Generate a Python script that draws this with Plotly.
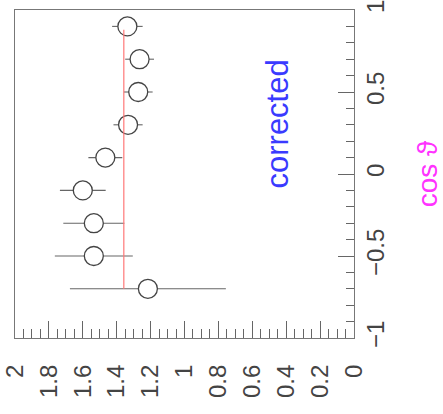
import plotly.graph_objects as go

# data (cos theta bins, corrected ratio values, uncertainties)
cos_theta = [0.9, 0.7, 0.5, 0.3, 0.1, -0.1, -0.3, -0.5, -0.7]
ratio = [1.337, 1.265, 1.273, 1.333, 1.467, 1.600, 1.535, 1.535, 1.216]
ratio_err = [0.090, 0.085, 0.085, 0.086, 0.100, 0.135, 0.180, 0.230, 0.460]
fit_value = 1.358
fit_range = [-0.7, 0.88]

fig = go.Figure()

# error bars
fig.add_trace(go.Scatter(
    x=ratio, y=cos_theta, mode="markers",
    marker=dict(size=1, color="rgba(0,0,0,0)"),
    error_x=dict(type="data", array=ratio_err, visible=True, thickness=1.1, width=0, color="#666666"),
    showlegend=False, hoverinfo="skip"))

# open circles (white inside so error bars stop at the edge)
fig.add_trace(go.Scatter(
    x=ratio, y=cos_theta, mode="markers",
    marker=dict(symbol="circle", size=19, color="white", line=dict(width=1.3, color="#444444")),
    showlegend=False))

# constant fit
fig.add_trace(go.Scatter(
    x=[fit_value, fit_value], y=fit_range, mode="lines",
    line=dict(color="rgb(255,120,120)", width=1.2), showlegend=False, hoverinfo="skip"))

fig.update_layout(
    width=443, height=414,
    margin=dict(l=15, r=89, t=0, b=76),
    paper_bgcolor="white", plot_bgcolor="white",
    font=dict(family="Liberation Sans, Arial, sans-serif", color="#333333"),
    annotations=[dict(
        text="corrected",
        x=(278 - 15) / (354 - 15), y=1 - 118 / 338,
        xref="paper", yref="paper", xanchor="center", yanchor="middle",
        showarrow=False, textangle=-90,
        font=dict(size=31, color="#3a3aff", family="Liberation Sans, Arial, sans-serif"))],
)

fig.update_xaxes(
    range=[2, 0], dtick=0.2, tick0=0,
    ticks="inside", ticklen=17, tickwidth=1, tickcolor="#666666",
    minor=dict(dtick=0.05, ticks="inside", ticklen=9, tickcolor="#666666"),
    showline=True, linecolor="#777777", linewidth=1.2, mirror=True,
    showgrid=False, zeroline=False,
    tickangle=-90, tickfont=dict(size=24, color="#444444"),
    ticklabelstandoff=16, ticklabeloverflow="allow",
)
fig.update_yaxes(
    range=[-1, 1], dtick=0.5, tick0=0, side="right",
    ticks="inside", ticklen=16, tickwidth=1, tickcolor="#666666",
    minor=dict(dtick=0.1, ticks="inside", ticklen=8, tickcolor="#666666"),
    showline=True, linecolor="#777777", linewidth=1.2, mirror=True,
    showgrid=False, zeroline=False,
    tickangle=-90, tickfont=dict(size=24, color="#444444"),
    ticklabeloverflow="allow",
    title=dict(text="cos ϑ", font=dict(size=28, color="#ff33ff"), standoff=32),
)

fig.write_html("out.html")
